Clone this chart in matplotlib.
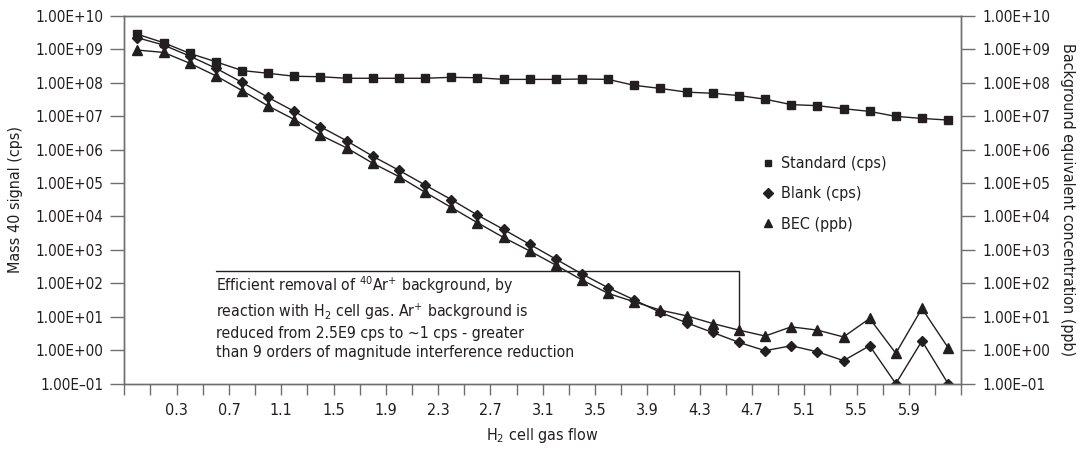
import matplotlib
matplotlib.use('Agg')
import matplotlib.pyplot as plt
from matplotlib.ticker import FuncFormatter, NullLocator, FixedLocator

# ======================
# DATA
# ======================

# H2 cell gas flow (one point per category)
flow = [0.0, 0.2, 0.4, 0.6, 0.8, 1.0, 1.2, 1.4, 1.6, 1.8, 2.0, 2.2, 2.4, 2.6, 2.8, 3.0,
        3.2, 3.4, 3.6, 3.8, 4.0, 4.2, 4.4, 4.6, 4.8, 5.0, 5.2, 5.4, 5.6, 5.8, 6.0, 6.2]

standard = [2.8e9, 1.56e9, 7.5e8, 4.2e8, 2.3e8, 1.9e8, 1.55e8, 1.5e8, 1.35e8, 1.35e8, 1.35e8,
            1.35e8, 1.44e8, 1.40e8, 1.25e8, 1.25e8, 1.25e8, 1.28e8, 1.25e8, 8.3e7, 6.7e7,
            5.2e7, 4.8e7, 4.1e7, 3.2e7, 2.2e7, 2.05e7, 1.66e7, 1.38e7, 9.8e6, 8.5e6, 7.6e6]

blank = [2.2e9, 1.33e9, 6.2e8, 2.7e8, 1.02e8, 3.6e7, 1.38e7, 4.8e6, 1.83e6, 6.3e5, 2.4e5,
         8.7e4, 3.2e4, 1.1e4, 4.1e3, 1.47e3, 5.3e2, 1.9e2, 74, 32, 13.5, 6.6, 3.4, 1.72,
         0.97, 1.36, 0.90, 0.49, 1.36, 0.10, 1.9, 0.10]

bec = [9.4e8, 8.0e8, 3.8e8, 1.6e8, 5.8e7, 2.0e7, 7.9e6, 2.7e6, 1.12e6, 3.9e5, 1.55e5,
       5.3e4, 1.86e4, 6.5e3, 2.35e3, 9.3e2, 3.5e2, 1.26e2, 50, 28, 15.8, 10.7, 6.3, 4.0,
       2.66, 5.0, 4.0, 2.5, 8.9, 0.81, 17.8, 1.19]

# category boundaries (tick marks) and labelled ticks
tick_pos = [-0.1, 0.1, 0.3, 0.5, 0.7, 0.9, 1.1, 1.3, 1.5, 1.7, 1.9, 2.1, 2.3, 2.5, 2.7, 2.9,
            3.1, 3.3, 3.5, 3.7, 3.9, 4.1, 4.3, 4.5, 4.7, 4.9, 5.1, 5.3, 5.5, 5.7, 5.9, 6.1, 6.3]
tick_labels = ['', '', '0.3', '', '0.7', '', '1.1', '', '1.5', '', '1.9', '', '2.3', '', '2.7', '',
               '3.1', '', '3.5', '', '3.9', '', '4.3', '', '4.7', '', '5.1', '', '5.5', '', '5.9', '', '']

note = ('Efficient removal of $^{40}$Ar$^{+}$ background, by\n'
        'reaction with H$_{2}$ cell gas. Ar$^{+}$ background is\n'
        'reduced from 2.5E9 cps to ~1 cps - greater\n'
        'than 9 orders of magnitude interference reduction')

# ======================
# STYLE
# ======================

plt.rcParams['font.family'] = ['DejaVu Sans']
plt.rcParams['font.stretch'] = 'condensed'
plt.rcParams['font.size'] = 11.5
plt.rcParams['mathtext.fontset'] = 'custom'
plt.rcParams['mathtext.rm'] = 'DejaVu Sans:stretch=condensed'
plt.rcParams['mathtext.it'] = 'DejaVu Sans:stretch=condensed'
plt.rcParams['mathtext.default'] = 'rm'

line_col = '#231f20'
axis_col = '#6d6e70'
text_col = '#231f20'


def sci(v, pos):
    return ('%.2E' % v).replace('-', '\u2013')


def generate_graph():
    fig = plt.figure(figsize=(10.84, 4.57), dpi=100)
    ax = fig.add_axes([0.1147, 0.1604, 0.772, 0.8052])
    ax2 = ax.twinx()

    h1, = ax.plot(flow, standard, color=line_col, lw=1.0, marker='s', ms=5.5,
                  label='Standard (cps)')
    h2, = ax.plot(flow, blank, color=line_col, lw=1.0, marker='D', ms=5.5,
                  label='Blank (cps)')
    h3, = ax2.plot(flow, bec, color=line_col, lw=1.0, marker='^', ms=6.5,
                   label='BEC (ppb)')

    for a in (ax, ax2):
        a.set_yscale('log')
        a.set_ylim(1e-1, 1e10)
        a.yaxis.set_major_locator(FixedLocator([10.0 ** k for k in range(-1, 11)]))
        a.yaxis.set_minor_locator(NullLocator())
        a.yaxis.set_major_formatter(FuncFormatter(sci))
        for s in a.spines.values():
            s.set_color(axis_col)
            s.set_linewidth(1.0)
        a.tick_params(axis='y', colors=axis_col, labelcolor=text_col, length=10,
                      width=1.0, pad=5, labelsize=11)
    ax.set_xlim(-0.1, 6.3)
    ax.set_xticks(tick_pos)
    ax.set_xticklabels(tick_labels)
    ax.tick_params(axis='x', colors=axis_col, labelcolor=text_col, length=8, width=1.0,
                   pad=6, labelsize=11.5)

    ax.set_ylabel('Mass 40 signal (cps)', color=text_col, labelpad=9)
    ax2.set_ylabel('Background equivalent concentration (ppb)', color=text_col,
                   rotation=270, labelpad=18)
    ax.set_xlabel('H$_{2}$ cell gas flow', color=text_col, labelpad=6)

    # annotation bracket down to the BEC point at 4.6
    ax2.annotate('', xy=(flow[23], bec[23]), xytext=(0.6, 240),
                 arrowprops=dict(arrowstyle='-', color=line_col, lw=1.0,
                                 connectionstyle='angle,angleA=0,angleB=90,rad=0',
                                 shrinkA=0, shrinkB=3))
    ax2.text(0.6, 190, note, color=text_col, ha='left', va='top', linespacing=1.36,
             fontsize=11.3)

    leg = ax.legend(handles=[h1, h2, h3], loc='upper left', bbox_to_anchor=(0.752, 0.657),
                    frameon=False, handlelength=0, handletextpad=0.8, labelspacing=0.95,
                    markerscale=0.9)
    for t in leg.get_texts():
        t.set_color(text_col)

    plt.savefig('out.png', dpi=100)


if __name__ == '__main__':
    generate_graph()
